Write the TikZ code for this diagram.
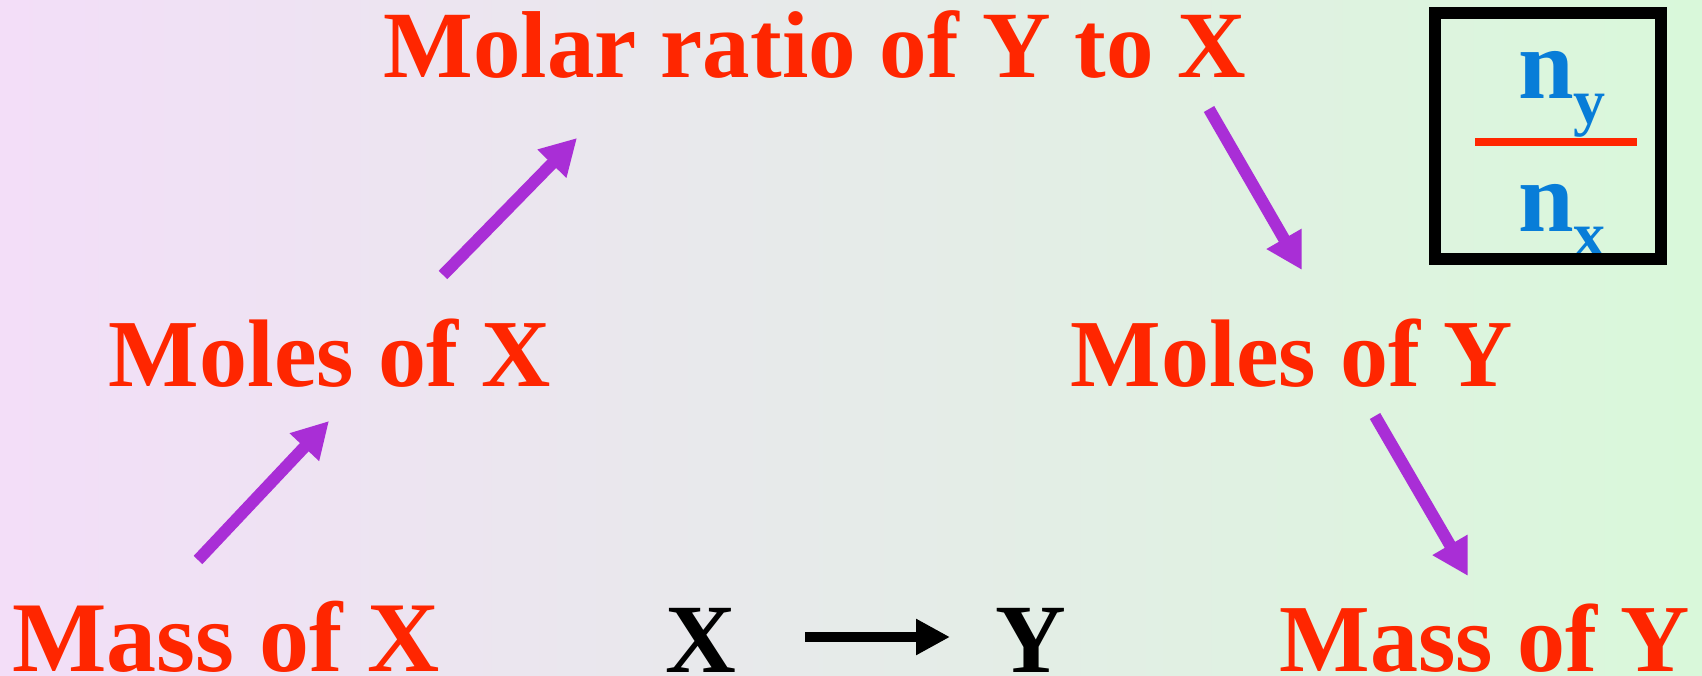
\documentclass[tikz,border=0pt]{standalone}
\usepackage{fontspec}
\setmainfont{Liberation Serif}
\usetikzlibrary{arrows.meta}
\definecolor{bgleft}{RGB}{243,222,248}
\definecolor{bgright}{RGB}{217,248,218}
\definecolor{tred}{RGB}{255,38,0}
\definecolor{tpurple}{RGB}{169,46,214}
\definecolor{tblue}{RGB}{8,125,216}
\tikzset{
  lbl/.style={anchor=base, inner sep=0pt, text=tred, font=\bfseries\fontsize{98}{100}\selectfont},
  blk/.style={anchor=base, inner sep=0pt, text=black, font=\bfseries\fontsize{98}{100}\selectfont},
  frac/.style={anchor=base west, inner sep=0pt, text=tblue, font=\bfseries\fontsize{100}{100}\selectfont},
  parrow/.style={draw=tpurple, line width=12pt, -{Triangle[length=36pt,width=38pt]}},
  barrow/.style={draw=black, line width=10pt, -{Triangle[length=34pt,width=34pt]}},
}
\begin{document}
\begin{tikzpicture}[x=1pt,y=-1pt]
\shade[left color=bgleft, right color=bgright] (0,0) rectangle (1702,676);
\useasboundingbox (0,0) rectangle (1702,676);
% labels
\node[lbl, font=\bfseries\fontsize{95}{100}\selectfont] (ratio) at (815,78) {Molar ratio of Y to X};
\node[lbl, font=\bfseries\fontsize{96}{100}\selectfont] (molx) at (330,386) {Moles of X};
\node[lbl, font=\bfseries\fontsize{96}{100}\selectfont] (moly) at (1292,386) {Moles of Y};
\node[lbl, font=\bfseries\fontsize{100}{100}\selectfont] (massx) at (226,671) {Mass of X};
\node[lbl, font=\bfseries\fontsize{96}{100}\selectfont] (massy) at (1485,671) {Mass of Y};
\node[blk] (x) at (701,672) {X};
\node[blk] (y) at (1031,672) {Y};
% arrow ends
\coordinate (a1s) at (198,560); \coordinate (a1e) at (329,421);
\coordinate (a2s) at (443,275); \coordinate (a2e) at (577,138);
\coordinate (a3s) at (1209,109); \coordinate (a3e) at (1302,270);
\coordinate (a4s) at (1375,416); \coordinate (a4e) at (1468,576);
\draw[parrow] (a1s) -- (a1e);
\draw[parrow] (a2s) -- (a2e);
\draw[parrow] (a3s) -- (a3e);
\draw[parrow] (a4s) -- (a4e);
\coordinate (bs) at (805,637); \coordinate (be) at (950,637);
\draw[barrow] (bs) -- (be);
% fraction box
\node[frac] (num) at (1518,99) {n\raisebox{-25pt}{\fontsize{64}{64}\selectfont y}};
\node[frac] (den) at (1518,232) {n\raisebox{-25pt}{\fontsize{64}{64}\selectfont x}};
\draw[tred, line width=8pt] (1475,142) -- (1637,142);
\draw[black, line width=12pt] (1435,13) rectangle (1661,259);
\end{tikzpicture}
\end{document}
